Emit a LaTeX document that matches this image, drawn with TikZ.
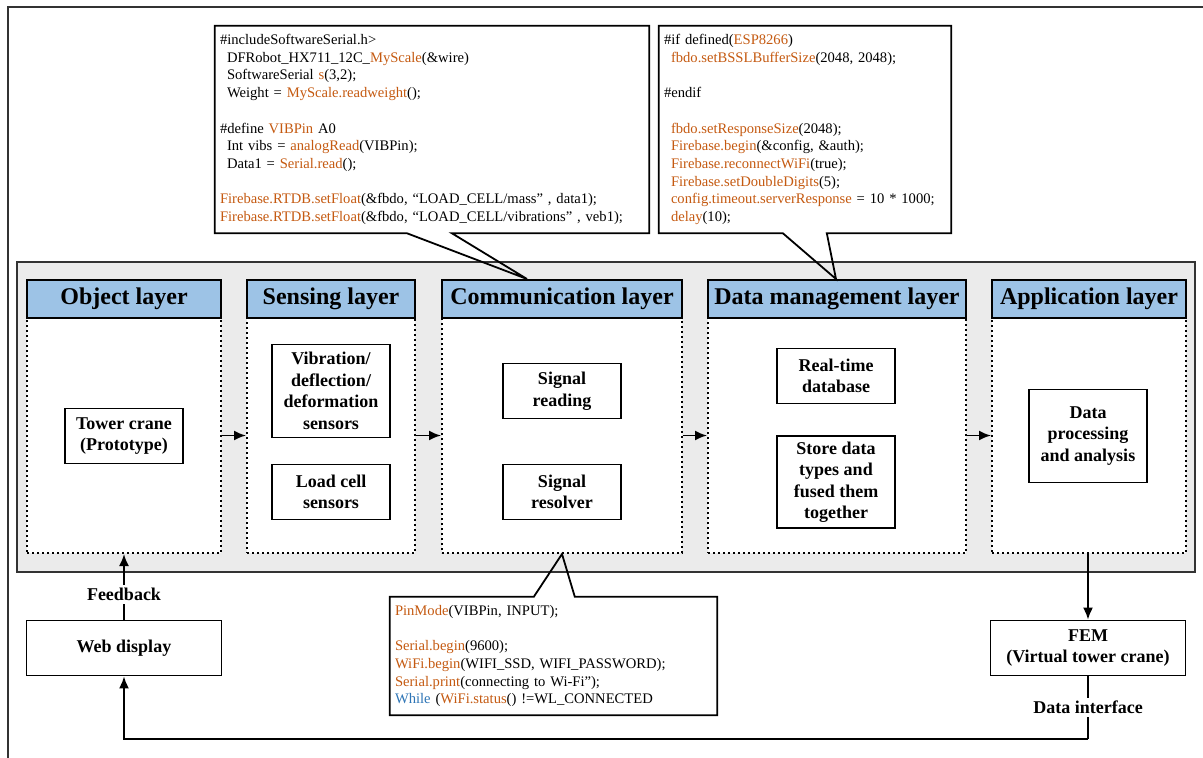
\documentclass[tikz,border=0pt]{standalone}
\usepackage{fontspec}
\setmainfont{Liberation Serif}
\usepackage{xcolor}
\usepackage{tikz}
\usetikzlibrary{calc, positioning, arrows.meta}
\definecolor{HeadBlue}{HTML}{9DC3E6}
\definecolor{PanelGray}{HTML}{EBEBEB}
\definecolor{EdgeGray}{HTML}{333333}
\definecolor{CodeOrange}{HTML}{C55A11}
\definecolor{CodeBlue}{HTML}{2E75B6}
\newcommand{\codefn}[1]{\textcolor{CodeOrange}{#1}}
\newcommand{\codekw}[1]{\textcolor{CodeBlue}{#1}}
\newcommand{\ind}{\hspace*{7pt}}

\begin{document}
\begin{tikzpicture}[x=1pt, y=-1pt,
        >={Latex[length=12pt,width=10pt]},
        panel/.style={draw=EdgeGray, line width=2pt, fill=PanelGray,
                    minimum width=1178pt, minimum height=310pt},
        lyr/.style={draw, line width=2pt, dash pattern=on 2pt off 3pt, fill=white,
                    minimum height=235pt},
        hdr/.style={draw, line width=2pt, fill=HeadBlue, minimum height=38pt,
                    font=\fontsize{24}{28}\selectfont\bfseries},
        blk/.style={draw, line width=1.8pt, fill=white, minimum width=118pt, minimum height=55pt,
                    align=center, inner sep=2pt, font=\fontsize{18}{21.5}\selectfont\bfseries},
        code/.style={fill=white, inner xsep=5pt, inner ysep=0pt, align=left,
                    font=\fontsize{14.6}{17.7}\selectfont},
        lbl/.style={fill=white, inner sep=3pt, font=\fontsize{18}{20}\selectfont\bfseries},
        callout/.style={draw, line width=1.8pt},
        link/.style={line width=1.8pt}]
        \useasboundingbox (0,0) rectangle (1203,758);
        \draw[line width=2pt, EdgeGray] (8,758) -- (8,7) -- (1203,7);

        \node[panel] (base) at (606,417) {};

        % layers
        \node[lyr, minimum width=194pt] (objL)  at (124,435.5)  {};
        \node[lyr, minimum width=168pt] (sensL) at (331,435.5)  {};
        \node[lyr, minimum width=240pt] (commL) at (562,435.5)  {};
        \node[lyr, minimum width=258pt] (dmL)   at (837,435.5)  {};
        \node[lyr, minimum width=194pt] (appL)  at (1089,435.5) {};
        \node[hdr, minimum width=194pt] (objH)  at (124,299)  {Object layer};
        \node[hdr, minimum width=168pt] (sensH) at (331,299)  {Sensing layer};
        \node[hdr, minimum width=240pt] (commH) at (562,299)  {Communication layer};
        \node[hdr, minimum width=258pt] (dmH)   at (837,299)  {Data management layer};
        \node[hdr, minimum width=194pt] (appH)  at (1089,299) {Application layer};

        % blocks
        \node[blk] (tower)  at (124,436) {Tower crane\\(Prototype)};
        \node[blk, minimum height=93pt] (vib) at (331,391) {Vibration/\\deflection/\\deformation\\sensors};
        \node[blk] (load)   at (331,492) {Load cell\\sensors};
        \node[blk] (sread)  at (562,391) {Signal\\reading};
        \node[blk] (sres)   at (562,492) {Signal\\resolver};
        \node[blk] (rtdb)   at (836,376) {Real-time\\database};
        \node[blk, minimum height=92pt] (store) at (836,482) {Store data\\types and\\fused them\\together};
        \node[blk, minimum height=93pt] (dproc) at (1088,436) {Data\\processing\\and analysis};
        \node[blk, minimum width=195pt] (web) at (124,648) {Web display};
        \node[blk, minimum width=195pt] (fem) at (1088,648) {FEM\\(Virtual tower crane)};

        \draw[link, ->] (objL.east) -- (sensL.west);
        \draw[link, ->] (sensL.east) -- (commL.west);
        \draw[link, ->] (commL.east) -- (dmL.west);
        \draw[link, ->] (dmL.east) -- (appL.west);
        \draw[link, ->] (web.north) -- node[lbl, pos=0.38] {Feedback} (objL.south);
        \draw[link, ->] (fem.north |- appL.south) -- (fem.north);
        \coordinate (turn) at (1088,739);
        \draw[link] (fem.south) -- node[lbl] {Data interface} (turn);
        \draw[link, ->] (turn) -| (web.south);

        % code callouts
        \node[code, text width=424pt, minimum height=207pt] (c1) at (432,129.5) {%
            \#includeSoftwareSerial.h>\\
            \ind DFRobot\_HX711\_12C\_\codefn{MyScale}(\&wire)\\
            \ind SoftwareSerial \codefn{s}(3,2);\\
            \ind Weight = \codefn{MyScale.readweight}();\\[17.7pt]
            \#define \codefn{VIBPin} A0\\
            \ind Int vibs = \codefn{analogRead}(VIBPin);\\
            \ind Data1 = \codefn{Serial.read}();\\[17.7pt]
            \codefn{Firebase.RTDB.setFloat}(\&fbdo, “LOAD\_CELL/mass” , data1);\\
            \codefn{Firebase.RTDB.setFloat}(\&fbdo, “LOAD\_CELL/vibrations” , veb1);};
        \draw[callout] (c1.south west) -- (c1.north west) -- (c1.north east) -- (c1.south east)
            -- ($(c1.south west)+(237,0)$) -- ($(commH.north west)+(86,0)$)
            -- ($(c1.south west)+(192,0)$) -- cycle;

        \node[code, text width=282pt, minimum height=207pt] (c2) at (805,129.5) {%
            \#if defined(\codefn{ESP8266})\\
            \ind\codefn{fbdo.setBSSLBufferSize}(2048, 2048);\\[17.7pt]
            \#endif\\[17.7pt]
            \ind\codefn{fbdo.setResponseSize}(2048);\\
            \ind\codefn{Firebase.begin}(\&config, \&auth);\\
            \ind\codefn{Firebase.reconnectWiFi}(true);\\
            \ind\codefn{Firebase.setDoubleDigits}(5);\\
            \ind\codefn{config.timeout.serverResponse} = 10 * 1000;\\
            \ind\codefn{delay}(10);};
        \draw[callout] (c2.south west) -- (c2.north west) -- (c2.north east) -- (c2.south east)
            -- ($(c2.south west)+(168,0)$) -- ($(dmH.north west)+(129,0)$)
            -- ($(c2.south west)+(124,0)$) -- cycle;

        \node[code, text width=317pt, minimum height=118pt] (c3) at (553.5,656) {%
            \codefn{PinMode}(VIBPin, INPUT);\\[17.7pt]
            \codefn{Serial.begin}(9600);\\
            \codefn{WiFi.begin}(WIFI\_SSD, WIFI\_PASSWORD);\\
            \codefn{Serial.print}(connecting to Wi-Fi”);\\
            \codekw{While} (\codefn{WiFi.status}() !=WL\_CONNECTED};
        \draw[callout] (c3.north west) -- ($(c3.north west)+(144,0)$) -- (commL.south)
            -- ($(c3.north west)+(185,0)$) -- (c3.north east) -- (c3.south east)
            -- (c3.south west) -- cycle;
\end{tikzpicture}
\end{document}
